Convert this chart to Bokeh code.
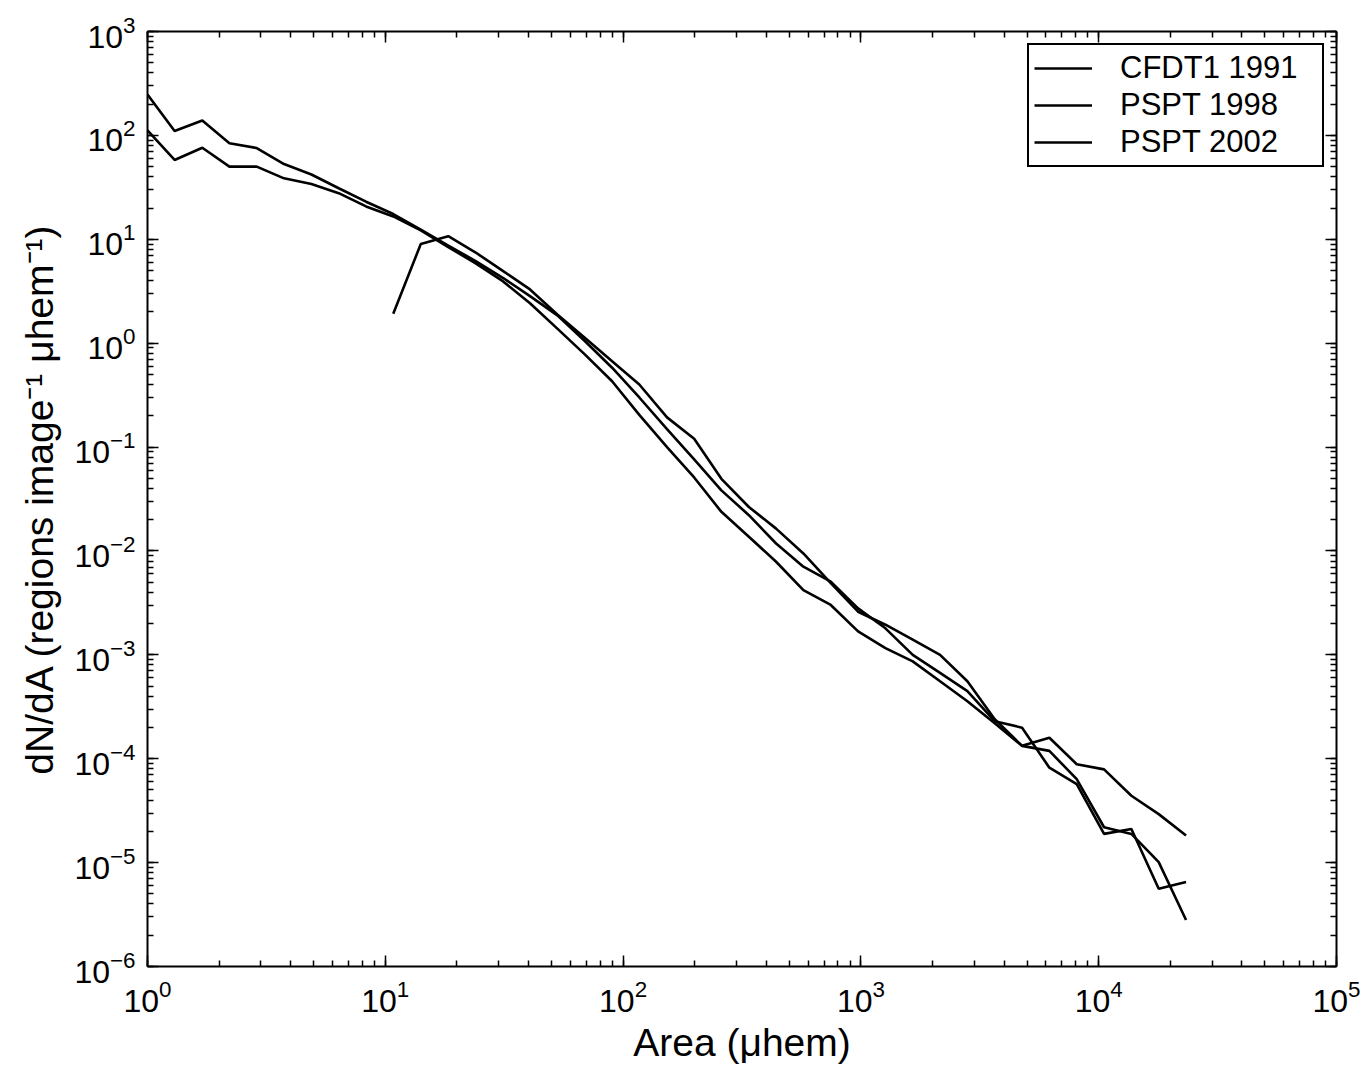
from bokeh.plotting import figure
from bokeh.models import Range1d, LogAxis, LogTicker, Legend, LegendItem
from bokeh.embed import file_html
from bokeh.resources import INLINE

# Bin centres (μhem)
area = [1.0, 1.30, 1.70, 2.21, 2.88, 3.75, 4.89, 6.37, 8.30, 10.8,
        14.1, 18.4, 23.9, 31.2, 40.6, 52.9, 69.0, 89.9, 117, 153,
        199, 259, 338, 440, 573, 747, 973, 1268, 1652, 2152,
        2804, 3654, 4761, 6203, 8083, 10532, 13723, 17881, 23298]

# CFDT1 1991 (starts at the 10th bin)
area_cfdt = area[9:]
dnda_cfdt = [1.92, 9.0, 10.7, 7.5, 4.97, 3.29, 1.89, 1.13, 0.67, 0.40,
             0.193, 0.12, 0.0495, 0.0265, 0.0164, 0.00946, 0.0049, 0.0026, 0.00195, 0.0014,
             0.0010, 0.000557, 0.00024, 1.33e-4, 1.59e-4, 8.85e-5, 7.9e-5, 4.4e-5, 2.93e-5, 1.82e-5]

# PSPT 1998
dnda_1998 = [247, 110, 139, 84, 75.5, 53, 42, 31, 23, 17.5,
             12.4, 8.7, 6.2, 4.26, 2.84, 1.85, 1.05, 0.58, 0.30, 0.149,
             0.076, 0.0383, 0.0221, 0.0118, 0.00705, 0.00506, 0.0028, 0.0018, 0.0010, 0.00067,
             0.000447, 0.00023, 1.99e-4, 8.2e-5, 5.7e-5, 1.89e-5, 2.11e-5, 5.6e-6, 6.5e-6]

# PSPT 2002
dnda_2002 = [112, 58, 76, 50, 50, 38.6, 34, 27.8, 20.7, 16.6,
             12.2, 8.4, 5.9, 3.95, 2.42, 1.38, 0.78, 0.43, 0.204, 0.100,
             0.051, 0.0238, 0.0137, 0.00787, 0.0042, 0.00302, 0.00168, 0.00116, 0.000865, 0.000557,
             0.000358, 0.00022, 1.33e-4, 1.19e-4, 6.35e-5, 2.19e-5, 1.89e-5, 1.01e-5, 2.8e-6]

labels = ["CFDT1 1991", "PSPT 1998", "PSPT 2002"]

FONT = "Liberation Sans"

W, H = 1360, 1066
p = figure(width=W, height=H, x_axis_type="log", y_axis_type="log",
           x_range=Range1d(1, 1e5), y_range=Range1d(1e-6, 1e3),
           output_backend="svg", toolbar_location=None,
           min_border_left=147, min_border_right=W - 1336,
           min_border_top=31, min_border_bottom=H - 970)
p.outline_line_color = None
p.xgrid.visible = False
p.ygrid.visible = False
p.background_fill_color = "white"
p.border_fill_color = "white"

LW = 2.6
r1 = p.line(area_cfdt, dnda_cfdt, line_color="black", line_width=LW)
r2 = p.line(area, dnda_1998, line_color="black", line_width=LW)
r3 = p.line(area, dnda_2002, line_color="black", line_width=LW)

def style_axis(ax, show_labels=True):
    ax.axis_line_color = "black"
    ax.axis_line_width = 2
    ax.major_tick_line_color = "black"
    ax.minor_tick_line_color = "black"
    ax.major_tick_line_width = 1.5
    ax.minor_tick_line_width = 1.5
    ax.major_tick_in = 11
    ax.major_tick_out = 0
    ax.minor_tick_in = 6
    ax.minor_tick_out = 0
    ax.major_label_text_font = FONT
    ax.major_label_text_color = "black"
    if show_labels:
        ax.major_label_text_font_size = "32px"
    else:
        ax.major_label_text_font_size = "1px"
        ax.major_label_text_alpha = 0
        ax.major_label_standoff = 0

p.xaxis.ticker = LogTicker(desired_num_ticks=6, num_minor_ticks=10)
p.yaxis.ticker = LogTicker(desired_num_ticks=10, num_minor_ticks=10)
style_axis(p.xaxis[0])
style_axis(p.yaxis[0])
p.xaxis.major_label_standoff = 13
p.yaxis.major_label_standoff = 12

p.xaxis.axis_label = "Area (μhem)"
p.yaxis.axis_label = "dN/dA (regions image⁻¹ μhem⁻¹)"
for ax in (p.xaxis[0], p.yaxis[0]):
    ax.axis_label_text_font = FONT
    ax.axis_label_text_font_size = "39px"
    ax.axis_label_text_font_style = "normal"
    ax.axis_label_text_color = "black"
p.xaxis.axis_label_standoff = 6
p.yaxis.axis_label_standoff = 10

top = LogAxis(ticker=LogTicker(desired_num_ticks=6, num_minor_ticks=10))
right = LogAxis(ticker=LogTicker(desired_num_ticks=10, num_minor_ticks=10))
style_axis(top, show_labels=False)
style_axis(right, show_labels=False)
p.add_layout(top, "above")
p.add_layout(right, "right")

legend = Legend(items=[LegendItem(label=labels[0], renderers=[r1]),
                       LegendItem(label=labels[1], renderers=[r2]),
                       LegendItem(label=labels[2], renderers=[r3])],
                location="top_right")
legend.label_text_font = FONT
legend.label_text_font_size = "31px"
legend.label_text_color = "black"
legend.glyph_width = 58
legend.glyph_height = 30
legend.label_standoff = 28
legend.label_width = 197
legend.padding = 5
legend.spacing = 1
legend.margin = 12
legend.border_line_color = "black"
legend.border_line_alpha = 1
legend.border_line_width = 2
legend.background_fill_color = "white"
legend.background_fill_alpha = 1
p.add_layout(legend)

open("out.html", "w").write(file_html(p, INLINE))
